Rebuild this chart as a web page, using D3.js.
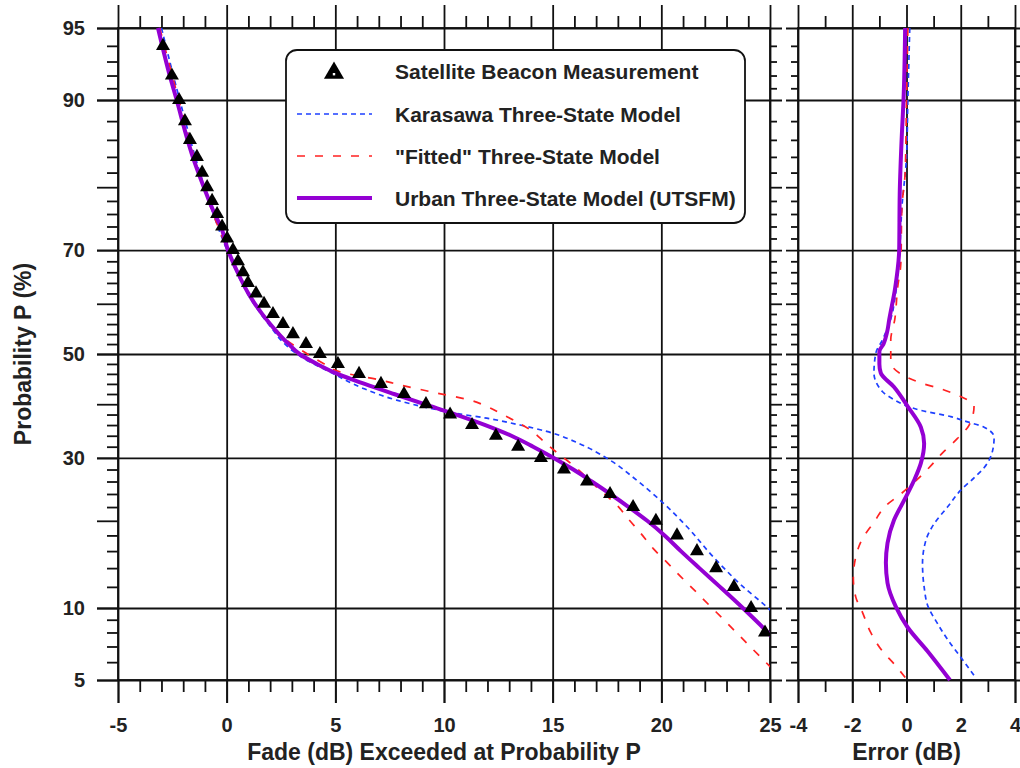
<!DOCTYPE html>
<html><head><meta charset="utf-8">
<script src="https://cdn.jsdelivr.net/npm/d3@7"></script>
<style>
body{margin:0;background:#fff;}
svg{display:block;font-family:"Liberation Sans",Arial,sans-serif;}
</style></head><body>
<svg id="chart" width="1020" height="768"></svg>
<script>
// ---------- data ----------
const measP = [94,92,90,88,86,84,82,80,78,76,74,72,70,68,66,64,62,60,58,56,54,52,50,48,46,44,42,40,38,36,34,32,30,28,26,24,22,20,18,16,14,12,10,8];
const measFade = [-2.93,-2.52,-2.19,-1.92,-1.69,-1.37,-1.13,-0.90,-0.67,-0.44,-0.21,0.02,0.29,0.52,0.75,0.98,1.35,1.72,2.13,2.59,3.05,3.65,4.29,5.12,6.09,7.10,8.16,9.17,10.28,11.29,12.39,13.41,14.46,15.52,16.58,17.64,18.70,19.75,20.72,21.64,22.52,23.34,24.13,24.77];

const karP = [95,90,80,70,60,55,52.8,49.5,46.4,43.1,40.8,39.2,38.2,37.3,36,34.8,32.5,29.6,26.2,22.6,19.2,15.3,12.3,10.1,9];
const karFade = [-3.0,-2.16,-1.02,0.02,1.25,2.1,2.5,3.4,4.75,6.29,7.82,9.36,10.58,11.97,13.5,14.73,16.26,17.64,18.87,20.09,21.17,22.39,23.62,24.85,25.5];

const fitP = [95,90,80,70,60,55,52.8,50.1,48.1,46.4,44.8,43.8,42.2,40.8,39.5,38,36.5,35,33.1,31,28.7,24.6,22.3,20.2,18.3,16.3,14.6,13.1,11.5,10.2,9.1,7.9,6.9,6,5.5];
const fitFade = [-3.08,-2.2,-1.06,0.06,1.3,2.25,2.76,3.68,4.45,5.21,7.05,7.98,9.66,11.2,12.0,12.7,13.4,14.0,14.55,15.18,15.95,17.18,17.95,18.5,19.05,19.63,20.28,20.88,21.6,22.23,22.82,23.51,24.15,24.8,25.2];

const utsP = [95,92,90,86,84,80,76,74,70,66,62,60,56,54,52,50,48,46,44,42,40,38,36,34,32,30,28,26,24,22,20,18,16,14,12,10,8,7];
const utsFade = [-3.16,-2.62,-2.30,-1.80,-1.56,-1.05,-0.55,-0.27,0.06,0.5,1.0,1.3,2.0,2.4,2.85,3.35,4.15,5.1,6.35,7.7,9.1,10.55,11.9,13.1,14.1,15.05,15.95,16.8,17.65,18.5,19.35,20.15,20.9,21.75,22.7,23.75,24.9,25.5];

const errUtsP = [95,90,86.7,79,70,63,56.8,54.8,52,50.5,48,46.2,43.4,39.6,35.6,32.6,29.1,26.2,23,20.1,17,14.6,12.4,10.1,8.4,6.7,5];
const errUts = [-0.05,-0.11,-0.17,-0.25,-0.27,-0.42,-0.64,-0.7,-0.85,-1.0,-1.0,-0.95,-0.46,0.04,0.53,0.65,0.53,0.28,-0.09,-0.46,-0.70,-0.76,-0.70,-0.39,0.04,0.77,1.6];

const errKarP = [95,90,84,77,70,62,57,52.8,50.2,46.2,42.5,40.9,39.6,38.8,37.6,36.6,35.6,33.7,31.2,28.3,26.6,24.6,22,19.6,17.3,14.5,12,10.1,8.7,7.5,6.3,5.1];
const errKar = [0.12,0.05,0.0,-0.17,-0.25,-0.4,-0.58,-0.89,-1.13,-1.2,-0.89,-0.46,0.04,0.53,1.63,2.25,2.86,3.23,3.17,2.86,2.49,2.0,1.51,1.02,0.71,0.59,0.65,0.80,1.14,1.51,2.0,2.56];

const errFitP = [95,90,82,77,67.6,63,57,52.8,48.4,45.8,44.2,43,41.8,39.6,36,33.5,30.9,28.3,24,22.2,19.8,17.6,15.3,12.9,11,9.6,8,6.7,5.9,5.1];
const errFit = [0.05,0.0,-0.05,-0.17,-0.21,-0.33,-0.43,-0.58,-0.58,-0.15,0.53,1.27,1.88,2.49,2.31,1.88,1.33,0.83,-0.21,-0.76,-1.2,-1.62,-1.87,-1.96,-1.87,-1.62,-1.32,-0.89,-0.46,-0.03];

const xMajor = [-5,0,5,10,15,20,25];
const xMajorLabels = ["-5","0","5","10","15","20","25"];
const xMinor = [-4,-3,-2,-1,1,2,3,4,6,7,8,9,11,12,13,14,16,17,18,19,21,22,23,24];
const eMajor = [-4,-2,0,2,4];
const eMajorLabels = ["-4","-2","0","2","4"];
const eMinor = [-3,-1,1,3];
const yMajor = [5,10,30,50,70,90,95];
const yMajorLabels = ["5","10","30","50","70","90","95"];
const yLong = [20,40,60,80];
const yMinor = [6,7,8,9,12,14,16,18,22,24,26,28,32,34,36,38,42,44,46,48,52,54,56,58,62,64,66,68,72,74,76,78,82,84,86,88,91,92,93,94];

const legendLabels = ["Satellite Beacon Measurement","Karasawa Three-State Model","\"Fitted\" Three-State Model","Urban Three-State Model (UTSFM)"];

// ---------- normal probability transform ----------
function probit(p){
  const a=[-3.969683028665376e+01,2.209460984245205e+02,-2.759285104469687e+02,1.383577518672690e+02,-3.066479806614716e+01,2.506628277459239e+00];
  const b=[-5.447609879822406e+01,1.615858368580409e+02,-1.556989798598866e+02,6.680131188771972e+01,-1.328068155288572e+01];
  const c=[-7.784894002430293e-03,-3.223964580411365e-01,-2.400758277161838e+00,-2.549732539343734e+00,4.374664141464968e+00,2.938163982698783e+00];
  const d=[7.784695709041462e-03,3.224671290700398e-01,2.445134137142996e+00,3.754408661907416e+00];
  const pl=0.02425, ph=1-pl; let q,r;
  if(p<pl){q=Math.sqrt(-2*Math.log(p));return (((((c[0]*q+c[1])*q+c[2])*q+c[3])*q+c[4])*q+c[5])/((((d[0]*q+d[1])*q+d[2])*q+d[3])*q+1);}
  if(p>ph){q=Math.sqrt(-2*Math.log(1-p));return -(((((c[0]*q+c[1])*q+c[2])*q+c[3])*q+c[4])*q+c[5])/((((d[0]*q+d[1])*q+d[2])*q+d[3])*q+1);}
  q=p-0.5;r=q*q;
  return (((((a[0]*r+a[1])*r+a[2])*r+a[3])*r+a[4])*r+a[5])*q/(((((b[0]*r+b[1])*r+b[2])*r+b[3])*r+b[4])*r+1);
}
const zp = p => probit(p/100);

// ---------- layout ----------
const X0=118, X1=770, Y0=28, Y1=680, E0=798, E1=1015;
const TXT="#222", LN="#111", SW=1.8;
const svg = d3.select("#chart");
const x = d3.scaleLinear().domain([-5,25]).range([X0,X1]);
const xe = d3.scaleLinear().domain([-4,4]).range([E0,E1]);
const yz = d3.scaleLinear().domain([zp(5),zp(95)]).range([Y1,Y0]);
const y = p => yz(zp(p));

function styleAxis(g){
  g.select(".domain").remove();
  g.selectAll("line").attr("stroke",LN).attr("stroke-width",SW);
  g.attr("font-family",null).attr("font-size",null);
  g.selectAll("text").attr("fill",TXT).style("font-size","20px").style("font-weight","bold");
}
function add(axis, tx, ty){
  const g = svg.append("g").attr("transform",`translate(${tx},${ty})`).call(axis);
  styleAxis(g); return g;
}

// gridlines (extended beyond frame)
add(d3.axisBottom(x).tickValues(xMajor).tickSize(-(Y1-Y0+46)).tickFormat(""),0,Y1+23);
add(d3.axisBottom(xe).tickValues(eMajor).tickSize(-(Y1-Y0+46)).tickFormat(""),0,Y1+23);
add(d3.axisLeft(yz).tickValues(yMajor.map(zp)).tickSize(-(782-97)).tickFormat(""),97,0);
add(d3.axisLeft(yz).tickValues(yMajor.map(zp)).tickSize(-(1020-786)).tickFormat(""),786,0);

// x minor ticks
add(d3.axisBottom(x).tickValues(xMinor).tickSize(12).tickFormat(""),0,Y1);
add(d3.axisTop(x).tickValues(xMinor).tickSize(12).tickFormat(""),0,Y0);
add(d3.axisBottom(xe).tickValues(eMinor).tickSize(12).tickFormat(""),0,Y1);
add(d3.axisTop(xe).tickValues(eMinor).tickSize(12).tickFormat(""),0,Y0);
// x labels
add(d3.axisBottom(x).tickValues(xMajor).tickSize(23).tickPadding(15).tickFormat((d,i)=>xMajorLabels[i]),0,Y1);
add(d3.axisBottom(xe).tickValues(eMajor).tickSize(23).tickPadding(15).tickFormat((d,i)=>eMajorLabels[i]),0,Y1);

// y ticks left panel
add(d3.axisLeft(yz).tickValues(yMinor.map(zp)).tickSize(11).tickFormat(""),X0,0);
add(d3.axisLeft(yz).tickValues(yLong.map(zp)).tickSize(21).tickFormat(""),X0,0);
add(d3.axisLeft(yz).tickValues(yMajor.map(zp)).tickSize(21).tickPadding(12).tickFormat((d,i)=>yMajorLabels[i]),X0,0);
add(d3.axisRight(yz).tickValues(yMinor.map(zp)).tickSize(7).tickFormat(""),X1,0);
add(d3.axisRight(yz).tickValues(yLong.map(zp)).tickSize(12).tickFormat(""),X1,0);
// y ticks right panel
add(d3.axisLeft(yz).tickValues(yMinor.map(zp)).tickSize(7).tickFormat(""),E0,0);
add(d3.axisLeft(yz).tickValues(yLong.map(zp)).tickSize(12).tickFormat(""),E0,0);
add(d3.axisRight(yz).tickValues(yMinor.map(zp)).tickSize(7).tickFormat(""),E1,0);
add(d3.axisRight(yz).tickValues(yLong.map(zp)).tickSize(12).tickFormat(""),E1,0);

// frames
svg.append("rect").attr("x",X0).attr("y",Y0).attr("width",X1-X0).attr("height",Y1-Y0).attr("fill","none").attr("stroke",LN).attr("stroke-width",SW);
svg.append("rect").attr("x",E0).attr("y",Y0).attr("width",E1-E0).attr("height",Y1-Y0).attr("fill","none").attr("stroke",LN).attr("stroke-width",SW);

// clip paths
const defs = svg.append("defs");
defs.append("clipPath").attr("id","clipL").append("rect").attr("x",X0).attr("y",Y0-2).attr("width",X1-X0).attr("height",Y1-Y0+4);
defs.append("clipPath").attr("id","clipR").append("rect").attr("x",E0).attr("y",Y0-2).attr("width",E1-E0).attr("height",Y1-Y0+4);

const BLUE="#1e40ff", RED="#ff2222", PURPLE="#9400d3";
const styles = {
  kar:{stroke:BLUE,w:1.7,dash:"5,4"},
  fit:{stroke:RED,w:1.7,dash:"8,10"},
  uts:{stroke:PURPLE,w:4,dash:null}
};
function drawLine(layer, xs, ps, vals, st){
  const pts = ps.map((p,i)=>[xs(vals[i]), y(p)]);
  layer.append("path").attr("d",d3.line().curve(d3.curveMonotoneY)(pts))
    .attr("fill","none").attr("stroke",st.stroke).attr("stroke-width",st.w)
    .attr("stroke-dasharray",st.dash).attr("stroke-linejoin","round");
}
const gl = svg.append("g").attr("clip-path","url(#clipL)");
drawLine(gl, x, karP, karFade, styles.kar);
drawLine(gl, x, fitP, fitFade, styles.fit);
drawLine(gl, x, utsP, utsFade, styles.uts);
const sym = d3.symbol().type(d3.symbolTriangle).size(85);
gl.selectAll("path.m").data(measP).join("path").attr("class","m")
  .attr("d",sym).attr("fill","#000")
  .attr("transform",(p,i)=>`translate(${x(measFade[i])},${y(p)})`);

const gr = svg.append("g").attr("clip-path","url(#clipR)");
drawLine(gr, xe, errKarP, errKar, styles.kar);
drawLine(gr, xe, errFitP, errFit, styles.fit);
drawLine(gr, xe, errUtsP, errUts, styles.uts);

// legend
const lg = svg.append("g");
lg.append("rect").attr("x",286).attr("y",50).attr("width",459).attr("height",173).attr("rx",11)
  .attr("fill","#fff").attr("stroke",LN).attr("stroke-width",SW);
const rowsY = [71,114,156,198];
lg.append("path").attr("d",d3.symbol().type(d3.symbolTriangle).size(175)).attr("fill","#000").attr("transform",`translate(334,${rowsY[0]+2})`);
lg.append("rect").attr("x",332.8).attr("y",rowsY[0]+2).attr("width",2.4).attr("height",2.4).attr("fill","#fff");
[styles.kar,styles.fit,styles.uts].forEach((st,i)=>{
  lg.append("line").attr("x1",297).attr("x2",372).attr("y1",rowsY[i+1]).attr("y2",rowsY[i+1])
    .attr("stroke",st.stroke).attr("stroke-width",st.w).attr("stroke-dasharray",st.dash);
});
lg.selectAll("text").data(legendLabels).join("text")
  .attr("x",395).attr("y",(d,i)=>rowsY[i]+7.5).text(d=>d)
  .attr("fill",TXT).style("font-size","21px").style("font-weight","bold");

// axis titles
svg.append("text").attr("x",(X0+X1)/2).attr("y",760).attr("text-anchor","middle")
  .attr("fill",TXT).style("font-size","23px").style("font-weight","bold").text("Fade (dB) Exceeded at Probability P");
svg.append("text").attr("x",(E0+E1)/2).attr("y",760).attr("text-anchor","middle")
  .attr("fill",TXT).style("font-size","23px").style("font-weight","bold").text("Error (dB)");
svg.append("text").attr("transform",`translate(31,${yz(0)}) rotate(-90)`).attr("text-anchor","middle")
  .attr("fill",TXT).style("font-size","23px").style("font-weight","bold").text("Probability P (%)");
</script>
</body></html>
